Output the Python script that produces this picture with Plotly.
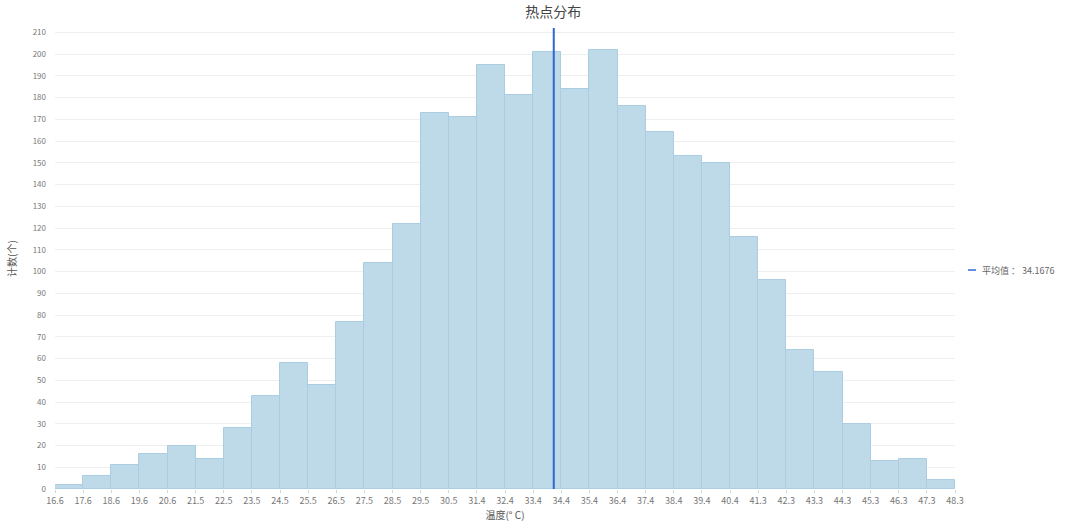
import plotly.graph_objects as go

# Data
bin_start = 16.6
bin_end = 48.3
counts = [2, 6, 11, 16, 20, 14, 28, 43, 58, 48, 77, 104, 122, 173, 171, 195,
          181, 201, 184, 202, 176, 164, 153, 150, 116, 96, 64, 54, 30, 13, 14, 4]
tick_labels = ["16.6", "17.6", "18.6", "19.6", "20.6", "21.5", "22.5", "23.5", "24.5",
               "25.5", "26.5", "27.5", "28.5", "29.5", "30.5", "31.4", "32.4", "33.4",
               "34.4", "35.4", "36.4", "37.4", "38.4", "39.4", "40.4", "41.3", "42.3",
               "43.3", "44.3", "45.3", "46.3", "47.3", "48.3"]
mean_value = 34.1676
y_ticks = list(range(0, 211, 10))

n = len(counts)
w = (bin_end - bin_start) / n
edges = [bin_start + i * w for i in range(n + 1)]
centers = [bin_start + (i + 0.5) * w for i in range(n)]

FONT = "Noto Sans CJK SC"
ytop = 212
LINE_COLOR = "#2E68D0"
legend_text = f"平均值 ： {mean_value}"

fig = go.Figure()
fig.add_trace(go.Bar(
    x=centers, y=counts, width=[w] * n,
    marker=dict(color="#BEDAE9", line=dict(color="#AACDE1", width=1)),
    showlegend=False, hoverinfo="y",
))
fig.add_trace(go.Scatter(
    x=[mean_value, mean_value], y=[0, ytop], mode="lines",
    line=dict(color=LINE_COLOR, width=2),
    name=legend_text, showlegend=False,
))

# Legend drawn manually (short line + text) to match the reference style
leg_y = 0.475
fig.add_shape(type="line", xref="paper", yref="paper",
              x0=1.0144, x1=1.0233, y0=leg_y, y1=leg_y,
              line=dict(color=LINE_COLOR, width=1.5))
fig.add_annotation(xref="paper", yref="paper", x=1.028, y=leg_y,
                   xanchor="left", yanchor="middle", showarrow=False,
                   text=legend_text, font=dict(family=FONT, size=9, color="#666"))

fig.update_layout(
    width=1068, height=528,
    margin=dict(l=55, r=113, t=28, b=39),
    paper_bgcolor="white", plot_bgcolor="white",
    font=dict(family=FONT, color="#666", size=9),
    title=dict(text="热点分布", x=0.518, xanchor="center", y=0.978, yanchor="middle",
               font=dict(family=FONT, size=14, color="#444")),
    bargap=0,
    showlegend=False,
    xaxis=dict(
        range=[bin_start, bin_end], tickmode="array", tickvals=edges, ticktext=tick_labels,
        showgrid=False, zeroline=False, showline=False, automargin=False,
        ticks="outside", ticklen=3, tickcolor="#BEDAE9",
        tickfont=dict(family=FONT, size=9, color="#777"),
        title=dict(text="温度(° C)", font=dict(family=FONT, size=10, color="#555"), standoff=2),
    ),
    yaxis=dict(
        range=[0, ytop], tickmode="array", tickvals=y_ticks, automargin=False,
        showgrid=True, gridcolor="#EFEFEF", gridwidth=1, zeroline=False, showline=False,
        tickfont=dict(family=FONT, size=8, color="#777"),
        ticklabelstandoff=8,
        title=dict(text="计数(个)", font=dict(family=FONT, size=10, color="#555"), standoff=14),
    ),
)

fig.write_html("out.html", config={"displayModeBar": False},
               post_script="document.body.style.margin='0px';")
